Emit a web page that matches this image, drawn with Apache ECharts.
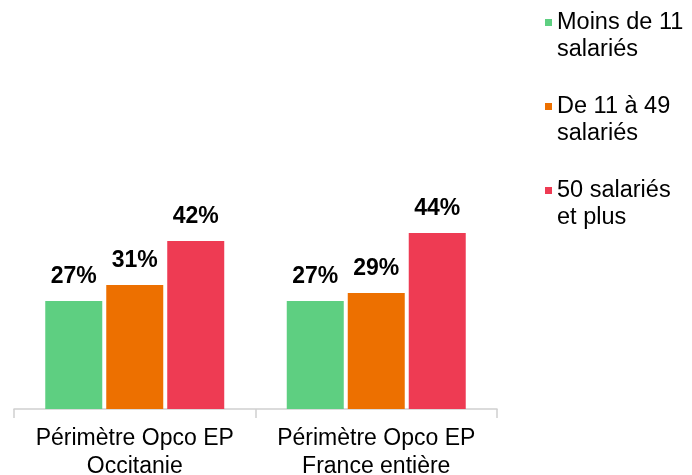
<!DOCTYPE html>
<html>
<head>
  <meta charset="UTF-8">
  <title>Répartition par taille d'entreprise</title>
  <script src="https://cdn.jsdelivr.net/npm/echarts@6/dist/echarts.min.js"></script>
  <style>
    html, body { margin: 0; padding: 0; background: #ffffff; }
    #chart { width: 692px; height: 475px; }
  </style>
</head>
<body>
<div id="chart"></div>
<script type="text/javascript">
    var categories = ['Périmètre Opco EP\nOccitanie', 'Périmètre Opco EP\nFrance entière'];
    var seriesNames = ['Moins de 11\nsalariés', 'De 11 à 49\nsalariés', '50 salariés\net plus'];
    var moins11 = [27, 27];
    var de11a49 = [31, 29];
    var plus50 = [42, 44];

    var couleurs = ['#5ecf81', '#ed7000', '#ee3b53'];
    var police = '"Liberation Sans", Arial, sans-serif';

    function serie(name, data, color) {
        return {
            name: name,
            type: 'bar',
            data: data,
            barWidth: 57,
            barGap: '7%',
            itemStyle: { color: color },
            label: {
                show: true,
                position: 'top',
                distance: 13,
                formatter: '{c}%',
                color: '#000',
                fontSize: 23,
                fontWeight: 'bold',
                fontFamily: police
            }
        };
    }

    var myChart = echarts.init(document.getElementById('chart'));
    myChart.setOption({
        animation: false,
        grid: { left: 14, right: 195, top: 209, bottom: 66, outerBoundsMode: 'none', containLabel: false },
        legend: {
            orient: 'vertical',
            left: 545,
            top: -18,
            padding: 0,
            itemWidth: 7,
            itemHeight: 7,
            itemGap: 3,
            icon: 'rect',
            formatter: function (name) { return '\n' + name; },
            textStyle: {
                fontSize: 23.5,
                lineHeight: 27,
                color: '#000',
                fontFamily: police
            },
            data: seriesNames
        },
        xAxis: {
            type: 'category',
            data: categories,
            axisLine: { lineStyle: { color: '#d0d0d0', width: 1.5 } },
            axisTick: { show: true, length: 9, lineStyle: { color: '#d0d0d0', width: 1.5 } },
            axisLabel: {
                interval: 0,
                hideOverlap: false,
                margin: 16,
                fontSize: 23,
                lineHeight: 28,
                color: '#000',
                fontFamily: police
            }
        },
        yAxis: {
            type: 'value',
            min: 0,
            max: 50,
            show: false
        },
        series: [
            serie(seriesNames[0], moins11, couleurs[0]),
            serie(seriesNames[1], de11a49, couleurs[1]),
            serie(seriesNames[2], plus50, couleurs[2])
        ]
    });
</script>
</body>
</html>
